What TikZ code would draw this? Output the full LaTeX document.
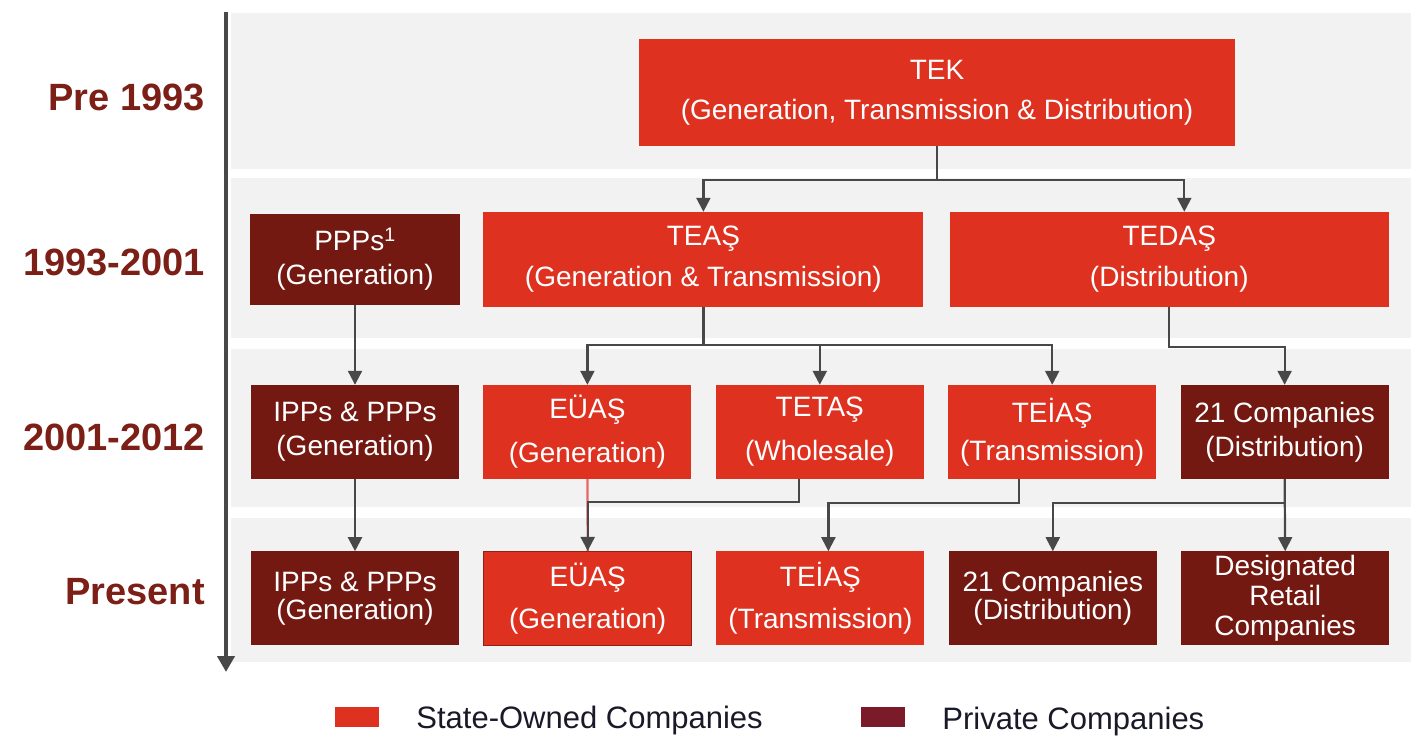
\documentclass[tikz,border=0pt]{standalone}
\usepackage{fontspec}
\setmainfont{Liberation Sans}
\usetikzlibrary{
  arrows.meta,
  positioning,
}
\definecolor{stateRed}{RGB}{223,49,32}
\definecolor{privRed}{RGB}{115,25,17}
\definecolor{keyPriv}{RGB}{123,26,40}
\definecolor{bandGray}{RGB}{242,242,242}
\definecolor{lineGray}{RGB}{72,72,72}
\definecolor{eraRed}{RGB}{123,31,23}
\definecolor{pinkLine}{RGB}{232,102,102}
\definecolor{keyText}{RGB}{25,25,40}
\tikzstyle{box} = [
  rectangle,
  minimum width=208,
  minimum height=94,
  inner sep=0,
  text=white,
  align=center,
  font=\fontsize{28}{34}\selectfont,
]
\tikzstyle{statebox} = [box, fill=stateRed]
\tikzstyle{privbox} = [box, fill=privRed]
\tikzstyle{conn} = [
  -{Triangle[length=14pt,width=14pt]},
  line width=2.2pt,
  lineGray,
]
\tikzstyle{era} = [anchor=east, text=eraRed, inner sep=0, font=\fontsize{38}{40}\selectfont\bfseries]
\tikzstyle{keytext} = [anchor=west, text=keyText, inner sep=0, font=\fontsize{31}{34}\selectfont]

\begin{document}
\begin{tikzpicture}[x=1pt,y=-1pt,node distance=24pt and 24pt]

      \useasboundingbox (0,0) rectangle (1411,736);

      \fill[bandGray] (231,13) rectangle (1411,169);
      \fill[bandGray] (231,178) rectangle (1411,338);
      \fill[bandGray] (231,349) rectangle (1411,507);
      \fill[bandGray] (231,518) rectangle (1411,662);

      \coordinate (axistop) at (226,12);
      \coordinate (axisend) at (226,672);
      \draw[line width=4pt,lineGray,-{Triangle[length=16pt,width=17pt]}] (axistop) -- (axisend);

      \node[era] (pre)    at (205,97)  {Pre 1993};
      \node[era] (early)  at (205,262) {1993-2001};
      \node[era] (mid)    at (205,437) {2001-2012};
      \node[era] (now)    at (205,592) {Present};

      \node[statebox,minimum width=596,minimum height=107] (tek) at (937,92.5) {TEK\\[6pt](Generation, Transmission \& Distribution)};
      \node[privbox,minimum width=210,minimum height=91] (ppps) at (355,259.5) {PPPs\textsuperscript{1}\\(Generation)};
      \node[statebox,minimum width=440,minimum height=95] (teas)  [right=23pt of ppps] {TEAŞ\\[7pt](Generation \& Transmission)};
      \node[statebox,minimum width=439,minimum height=95] (tedas) [right=26pt of teas] {TEDAŞ\\[7pt](Distribution)};

      \node[privbox] (ipps) at (355,432) {IPPs \& PPPs\\(Generation)};
      \node[statebox] (euas)  [right=of ipps]  {EÜAŞ\\[10pt](Generation)};
      \node[statebox] (tetas) [right=of euas]  {TETAŞ\\[10pt](Wholesale)};
      \node[statebox] (teias) [right=of tetas] {TEİAŞ\\[4pt](Transmission)};
      \node[privbox]  (dist)  [right=of teias] {21 Companies\\(Distribution)};

      \node[privbox] (ipps2) [below=72pt of ipps] {IPPs \& PPPs\\[-6pt](Generation)};
      \node[statebox,draw=privRed!70!stateRed,line width=1pt] (euas2) [right=of ipps2] {EÜAŞ\\[8pt](Generation)};
      \node[statebox] (teias2) [right=of euas2]  {TEİAŞ\\[8pt](Transmission)};
      \node[privbox]  (dist2)  [right=of teias2] {21 Companies\\[-6pt](Distribution)};
      \node[privbox]  (retail) [right=of dist2]  {Designated\\[-4pt]Retail\\[-4pt]Companies};

      \draw[conn] (tek.south) -- ++(0,34) -| (teas.north);
      \draw[conn] (tek.south) -- ++(0,34) -| ([xshift=15pt]tedas.north);
      \draw[conn] (teas.south) -- ++(0,38) -| (euas.north);
      \draw[conn] (teas.south) -- ++(0,38) -| (tetas.north);
      \draw[conn] (teas.south) -- ++(0,38) -| (teias.north);
      \draw[conn] (tedas.south) -- ++(0,40) -| (dist.north);
      \draw[conn] (ppps.south) -- (ipps.north);
      \draw[conn] (ipps.south) -- (ipps2.north);
      \draw[line width=2.2pt,pinkLine] (euas.south) -- (euas2.north);
      \draw[conn] ([xshift=-21pt]tetas.south) -- ++(0,23) -| (euas2.north);
      \draw[conn] ([xshift=-33pt]teias.south) -- ++(0,24) -| ([xshift=8pt]teias2.north);
      \draw[conn] (dist.south) -- ++(0,24) -| (dist2.north);
      \draw[conn] (dist.south) -- (retail.north);

      \node[fill=stateRed,minimum width=44,minimum height=20,inner sep=0] (statekey) at (357,717) {};
      \node[keytext,yshift=-3pt] (statelabel) [right=37pt of statekey] {State-Owned Companies};
      \node[fill=keyPriv,minimum width=44,minimum height=20,inner sep=0] (privkey) at (883,717) {};
      \node[keytext,yshift=-4pt] (privlabel) [right=37pt of privkey] {Private Companies};
    \end{tikzpicture}
\end{document}
